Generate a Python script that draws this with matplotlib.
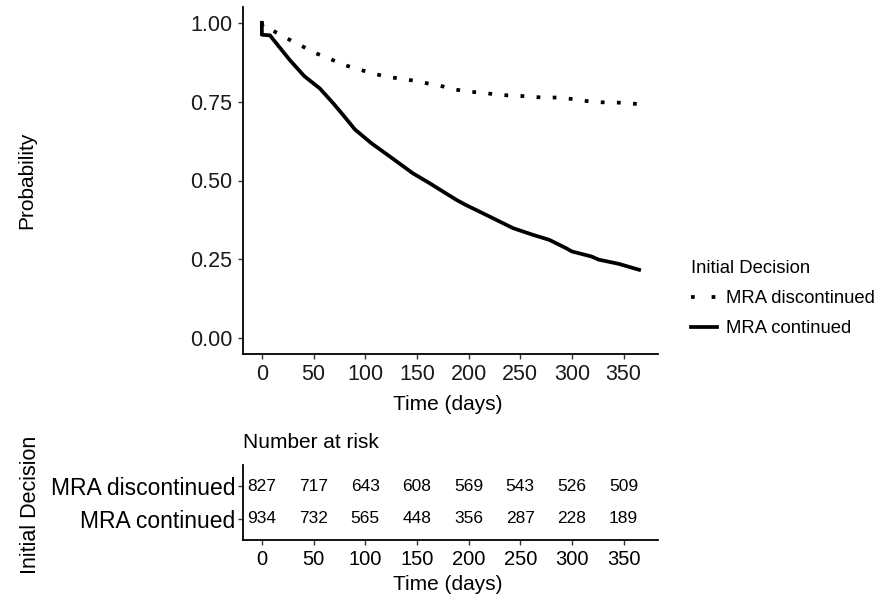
import matplotlib
matplotlib.use("Agg")
import matplotlib.pyplot as plt
from matplotlib.lines import Line2D

plt.rcParams['font.family'] = ['Liberation Sans', 'DejaVu Sans']

# Survival curves by initial decision (time in days, probability)
t_disc = [0, 1, 8, 19, 30, 40, 51, 61, 72, 83, 96, 107, 120, 134, 148, 160, 173,
          186, 199, 214, 228, 242, 257, 271, 287, 301, 314, 328, 344, 358, 365]
p_disc = [1.0, 0.985, 0.979, 0.961, 0.940, 0.924, 0.905, 0.892, 0.877, 0.863, 0.850,
          0.840, 0.829, 0.823, 0.816, 0.808, 0.800, 0.789, 0.782, 0.778, 0.772, 0.769,
          0.767, 0.763, 0.763, 0.758, 0.752, 0.748, 0.747, 0.744, 0.742]

t_cont = [0, 0, 8, 11, 27, 41, 56, 69, 79, 90, 106, 123, 146, 162, 188, 197, 217, 243,
          262, 278, 294, 300, 319, 326, 345, 365]
p_cont = [1.0, 0.962, 0.960, 0.947, 0.882, 0.831, 0.792, 0.745, 0.706, 0.662, 0.618,
          0.578, 0.523, 0.492, 0.439, 0.423, 0.391, 0.349, 0.328, 0.312, 0.286, 0.275,
          0.259, 0.249, 0.236, 0.217]

# Number at risk table
risk_times = [0, 50, 100, 150, 200, 250, 300, 350]
risk_disc = [827, 717, 643, 608, 569, 543, 526, 509]
risk_cont = [934, 732, 565, 448, 356, 287, 228, 189]
groups = ["MRA discontinued", "MRA continued"]

W, H = 877, 595
fig = plt.figure(figsize=(W / 100, H / 100), dpi=100)

def px_axes(left, top, right, bottom):
    return fig.add_axes([left / W, 1 - bottom / H, (right - left) / W, (bottom - top) / H])

def style(ax):
    for s in ["top", "right"]:
        ax.spines[s].set_visible(False)
    for s in ["left", "bottom"]:
        ax.spines[s].set_linewidth(1.3)
    ax.tick_params(direction="out", length=3.5, width=1.0, color="#333333", pad=4)

xlim = (-18.25, 383.25)

# Survival plot
ax = px_axes(243, 7, 658, 354)
style(ax)
ax.plot(t_disc, p_disc, color="black", lw=2.7, linestyle=(0, (1, 3.3)), dash_capstyle="butt")
ax.plot(t_cont, p_cont, color="black", lw=2.7, solid_joinstyle="round")
ax.set_xlim(*xlim)
ax.set_ylim(-0.05, 1.05)
ax.set_xticks(risk_times)
ax.set_yticks([0, 0.25, 0.5, 0.75, 1.0])
ax.set_yticklabels(["0.00", "0.25", "0.50", "0.75", "1.00"])
ax.tick_params(labelsize=15.5, labelcolor="#1a1a1a")
fig.text(448 / W, 1 - 404 / H, "Time (days)", ha="center", va="center", fontsize=15)
fig.text(27 / W, 1 - 180 / H, "Probability", ha="center", va="center", rotation=90, fontsize=15)

# Legend
handles = [Line2D([], [], color="black", lw=2.7, linestyle=(0, (1, 4.5)), dash_capstyle="butt"),
           Line2D([], [], color="black", lw=2.7)]
leg = fig.legend(handles, groups, title="Initial Decision", loc="upper left",
                 bbox_to_anchor=(682 / W, 1 - 251 / H), frameon=False, fontsize=13.3,
                 title_fontsize=13.3, handlelength=1.4, handletextpad=0.5,
                 labelspacing=0.7, borderpad=0, alignment="left")

# Number at risk table
ax2 = px_axes(243, 465, 658, 540)
style(ax2)
rows = [2, 1]
for row, counts in zip(rows, [risk_disc, risk_cont]):
    for t, n in zip(risk_times, counts):
        ax2.text(t, row, str(n), ha="center", va="center", fontsize=12.5)
ax2.set_xlim(*xlim)
ax2.set_ylim(0.36, 2.64)
ax2.set_xticks(risk_times)
ax2.set_yticks(rows)
ax2.set_yticklabels(groups)
ax2.tick_params(axis="x", labelsize=14.5)
ax2.tick_params(axis="y", labelsize=16.5, pad=2)
fig.text(243 / W, 1 - 443 / H, "Number at risk", ha="left", va="center", fontsize=15)
fig.text(448 / W, 1 - 585 / H, "Time (days)", ha="center", va="center", fontsize=15)
fig.text(30 / W, 1 - 505 / H, "Initial Decision", ha="center", va="center", rotation=90, fontsize=15.5)

fig.savefig("out.png", dpi=100)
